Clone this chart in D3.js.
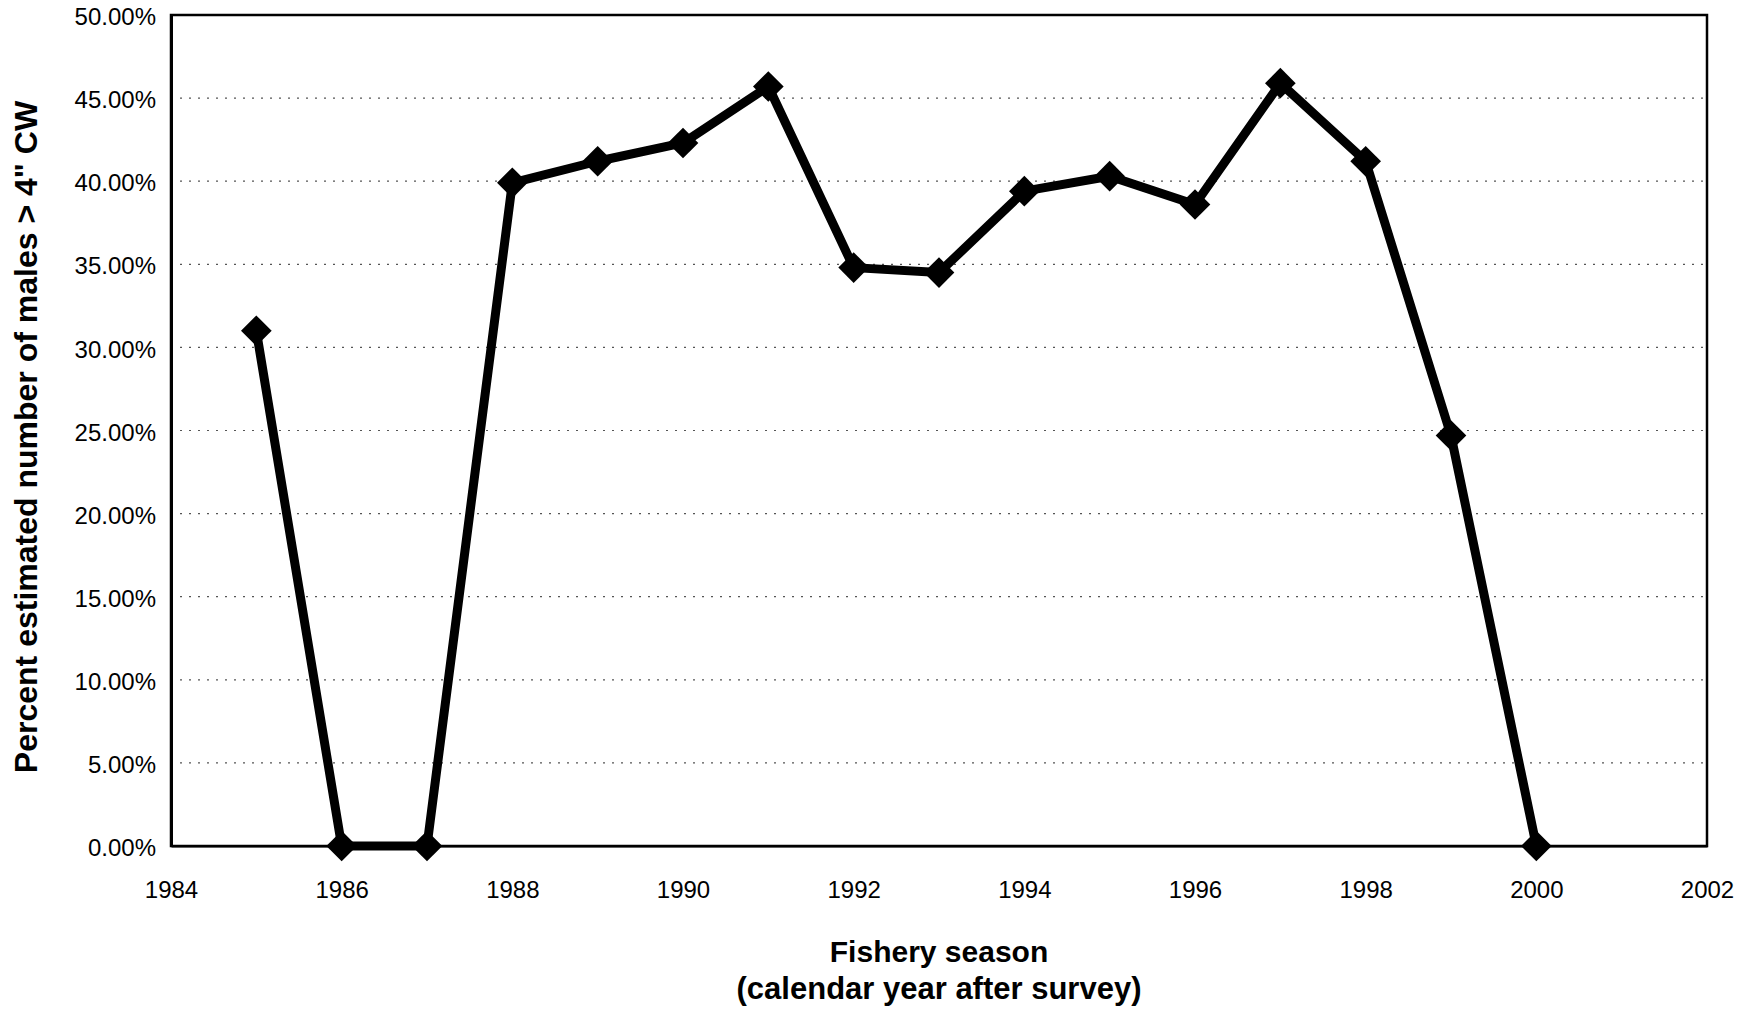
<!DOCTYPE html>
<html>
<head>
<meta charset="utf-8">
<script src="https://cdn.jsdelivr.net/npm/d3@7"></script>
<style>
  body { margin: 0; background: #fff; }
  svg { display: block; font-family: Arial, "Liberation Sans", sans-serif; }
  .grid line { stroke: #555; stroke-width: 1.2; stroke-dasharray: 2,7; }
  .tick text { fill: #000; font-size: 24px; }
</style>
</head>
<body>
<svg width="1757" height="1013"></svg>
<script>
// fishery season and share of males > 4" CW
const years = [1985, 1986, 1987, 1988, 1989, 1990, 1991, 1992, 1993, 1994, 1995, 1996, 1997, 1998, 1999, 2000];
const pct = [31.0, 0, 0, 39.9, 41.2, 42.3, 45.7, 34.8, 34.5, 39.4, 40.3, 38.6, 45.9, 41.2, 24.7, 0];
const xTicks = [1984, 1986, 1988, 1990, 1992, 1994, 1996, 1998, 2000, 2002];
const yTicks = [0, 5, 10, 15, 20, 25, 30, 35, 40, 45, 50];

let svg = d3.select("svg");
let margin = { top: 15, right: 50, bottom: 167, left: 171 };
let width = +svg.attr("width") - margin.left - margin.right;
let height = +svg.attr("height") - margin.top - margin.bottom;

let g = svg.append("g").attr("transform", `translate(${margin.left},${margin.top})`);

let x = d3.scaleLinear().domain([1984, 2002]).range([0, width]);
let y = d3.scaleLinear().domain([0, 50]).range([height, 0]);

// dotted gridlines
g.append("g")
    .attr("class", "grid")
    .selectAll("line")
    .data(yTicks.slice(1, -1))
    .enter().append("line")
    .attr("x1", 0).attr("x2", width)
    .attr("y1", d => y(d)).attr("y2", d => y(d));

// frame
g.append("rect")
    .attr("width", width).attr("height", height)
    .attr("fill", "none").attr("stroke", "#000").attr("stroke-width", 2.5);

let yAxis = g.append("g")
    .call(d3.axisLeft(y).tickValues(yTicks).tickSize(0).tickPadding(15)
        .tickFormat(d => d.toFixed(2) + "%"));
yAxis.select(".domain").attr("stroke", "#000").attr("stroke-width", 3);
yAxis.selectAll(".tick text").attr("dy", "0.4em");

let xAxis = g.append("g")
    .attr("transform", `translate(0,${height})`)
    .call(d3.axisBottom(x).tickValues(xTicks).tickSize(0).tickPadding(35)
        .tickFormat(d3.format("d")));
xAxis.select(".domain").attr("stroke", "#000").attr("stroke-width", 2);

let data = years.map((yr, i) => ({ year: yr, v: pct[i] }));

let line = d3.line()
    .x(d => x(d.year))
    .y(d => y(d.v));

g.append("path")
    .datum(data)
    .attr("fill", "none")
    .attr("stroke", "#000")
    .attr("stroke-width", 9)
    .attr("stroke-linejoin", "round")
    .attr("d", line);

g.selectAll(".marker")
    .data(data)
    .enter().append("path")
    .attr("class", "marker")
    .attr("d", d3.symbol().type(d3.symbolDiamond2).size(600))
    .attr("fill", "#000")
    .attr("transform", d => `translate(${x(d.year)},${y(d.v)})`);

// axis titles
svg.append("text")
    .attr("x", margin.left + width / 2)
    .attr("y", 962)
    .attr("text-anchor", "middle")
    .attr("font-size", 30).attr("font-weight", "bold")
    .text("Fishery season");
svg.append("text")
    .attr("x", margin.left + width / 2)
    .attr("y", 999)
    .attr("text-anchor", "middle")
    .attr("font-size", 31).attr("font-weight", "bold")
    .text("(calendar year after survey)");

svg.append("text")
    .attr("transform", "translate(37,437) rotate(-90)")
    .attr("text-anchor", "middle")
    .attr("font-size", 32).attr("font-weight", "bold")
    .text("Percent estimated number of males > 4\" CW");
</script>
</body>
</html>
